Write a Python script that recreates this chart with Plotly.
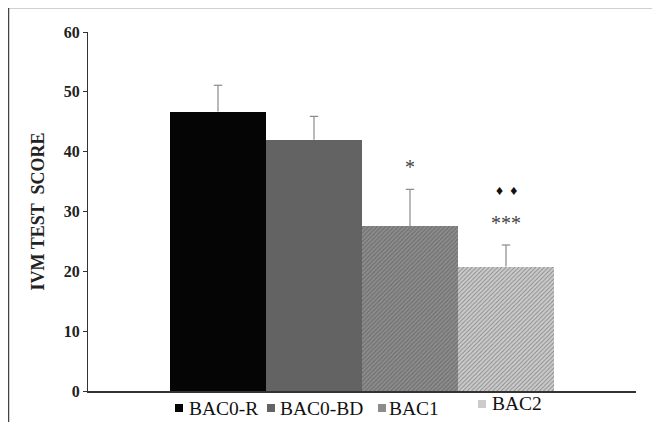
import plotly.graph_objects as go

groups = ["BAC0-R", "BAC0-BD", "BAC1", "BAC2"]
scores = [46.7, 42.0, 27.5, 20.8]
sem = [4.4, 3.9, 6.2, 3.6]
sig_labels = ["", "", "*", "***"]
sig2_labels = ["", "", "", "\u2666\u00a0\u00a0\u2666"]
y_ticks = [0, 10, 20, 30, 40, 50, 60]

fills = ["#050505", "#636363", "#8c8c8c", "#cccccc"]
pattern_shapes = ["", "", "/", "/"]
pattern_fg = ["#050505", "#636363", "#838383", "#c4c4c4"]

SERIF = "Liberation Serif, Times New Roman, serif"

# page body has an 8px margin; figure is placed at (8, 8)
OFF = 8
W, H = 660 - OFF, 422 - OFF
plot_left, plot_right, plot_top, plot_bot = 88 - OFF, 636 - OFF, 32 - OFF, 391 - OFF

def px_to_paper_x(px):
    return (px - OFF - plot_left) / (plot_right - plot_left)
def px_to_paper_y(py):
    return (plot_bot - (py - OFF)) / (plot_bot - plot_top)

fig = go.Figure()
xs = list(range(len(groups)))
fig.add_trace(go.Bar(
    x=xs, y=scores, width=1.0,
    marker=dict(
        color=fills,
        line=dict(width=0),
        pattern=dict(shape=pattern_shapes, fgcolor=pattern_fg, size=3, solidity=0.3),
    ),
    showlegend=False, hoverinfo="skip",
))

# upper-only error bars: stems + caps
ex, ey = [], []
for i in xs:
    ex += [i, i, None]
    ey += [scores[i], scores[i] + sem[i], None]
fig.add_trace(go.Scatter(x=ex, y=ey, mode="lines", line=dict(color="#8a8a8a", width=1.2),
                         showlegend=False, hoverinfo="skip"))
fig.add_trace(go.Scatter(x=xs, y=[s + e for s, e in zip(scores, sem)], mode="markers",
                         marker=dict(symbol="line-ew", size=6, line=dict(color="#8a8a8a", width=1.2)),
                         showlegend=False, hoverinfo="skip"))

annotations = []
for i in xs:
    top = scores[i] + sem[i]
    if sig_labels[i]:
        annotations.append(dict(x=i, y=top, xref="x", yref="y", text=sig_labels[i],
                                showarrow=False, yshift=22,
                                font=dict(family=SERIF, size=20, color="#444444")))
    if sig2_labels[i]:
        annotations.append(dict(x=i, y=top, xref="x", yref="y", text=sig2_labels[i],
                                showarrow=False, yshift=55,
                                font=dict(family=SERIF, size=14, color="#111111")))

# manual legend
legend_x = [(175, 187), (267, 278), (378, 387), (478, 490)]
legend_y = [408, 408, 408, 404]

shapes = []
for i, g in enumerate(groups):
    sx, tx = legend_x[i]
    cy = legend_y[i]
    shapes.append(dict(type="rect", xref="paper", yref="paper",
                       x0=px_to_paper_x(sx), x1=px_to_paper_x(sx + 8),
                       y0=px_to_paper_y(cy + 4), y1=px_to_paper_y(cy - 4),
                       fillcolor=fills[i], line=dict(width=0)))
    annotations.append(dict(x=px_to_paper_x(tx), y=px_to_paper_y(cy), xref="paper", yref="paper",
                            text=g, showarrow=False, xanchor="left", yanchor="middle",
                            font=dict(family=SERIF, size=19.5, color="#111111")))

# outer frame lines (top and left)
shapes.append(dict(type="line", xref="paper", yref="paper",
                   x0=px_to_paper_x(8), x1=px_to_paper_x(660), y0=px_to_paper_y(7.5), y1=px_to_paper_y(7.5),
                   line=dict(color="#444444", width=1.5)))
shapes.append(dict(type="line", xref="paper", yref="paper",
                   x0=px_to_paper_x(8.5), x1=px_to_paper_x(8.5), y0=px_to_paper_y(7), y1=px_to_paper_y(422),
                   line=dict(color="#444444", width=1.5)))

fig.update_layout(
    width=W, height=H,
    margin=dict(l=plot_left, r=W - plot_right, t=plot_top, b=H - plot_bot),
    paper_bgcolor="white", plot_bgcolor="white",
    bargap=0,
    xaxis=dict(range=[-1.354, 4.354], showticklabels=False, ticks="", showgrid=False,
               zeroline=False, showline=True, linecolor="#333333", linewidth=1.5, fixedrange=True),
    yaxis=dict(range=[0, 60], tickvals=y_ticks, ticks="outside", ticklen=4, tickcolor="#333333",
               showgrid=False, zeroline=False, showline=True, linecolor="#333333", linewidth=1,
               tickfont=dict(family=SERIF, size=16, color="#222222", weight="bold"),
               title=dict(text="<b>IVM TEST \u00a0SCORE</b>", standoff=14,
                          font=dict(family=SERIF, size=18, color="#222222"))),
    annotations=annotations,
    shapes=shapes,
)

fig.write_html("out.html")
